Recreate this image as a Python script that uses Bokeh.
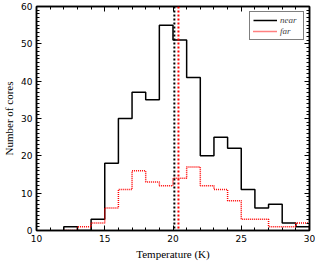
import numpy as np
from bokeh.plotting import figure
from bokeh.models import (Range1d, LinearAxis, Span, Legend, LegendItem, FixedTicker,
                          CustomJSTickFormatter)
from bokeh.embed import file_html
from bokeh.resources import INLINE

# ---- data ----
bin_edges = [12, 13, 14, 15, 16, 17, 18, 19, 20, 21, 22, 23, 24, 25, 26, 27, 28, 29, 30]
near_counts = [1, 0, 3, 18, 30, 37, 35, 55, 51, 41, 20, 25, 22, 11, 6, 7, 2, 1]
far_counts = [0, 1, 2, 6, 11, 16, 13, 12, 14, 17, 12, 11, 8, 3, 3, 1, 1, 2]
near_median = 20.1
far_median = 20.4
x_ticks = [10, 15, 20, 25, 30]
y_ticks = [0, 10, 20, 30, 40, 50, 60]
series_names = ["near", "far"]


def outline(edges, counts):
    xs = [edges[0]]
    ys = [0]
    for i, c in enumerate(counts):
        xs += [edges[i], edges[i + 1]]
        ys += [c, c]
    xs.append(edges[-1])
    ys.append(0)
    return xs, ys


SERIF = "Liberation Serif"
TICKF = "DejaVu Sans"

p = figure(width=315, height=262, output_backend="svg", toolbar_location=None,
           x_range=Range1d(10, 30), y_range=Range1d(0, 60),
           min_border_left=0, min_border_right=6, min_border_top=6, min_border_bottom=0,
           x_axis_label="Temperature (K)", y_axis_label="Number of cores")
p.grid.visible = False
p.outline_line_color = "black"
p.outline_line_width = 1.5
p.background_fill_color = "white"
p.border_fill_color = "white"

p.xaxis.ticker = FixedTicker(ticks=x_ticks, minor_ticks=list(range(10, 31)))
p.yaxis.ticker = FixedTicker(ticks=y_ticks, minor_ticks=list(range(0, 61)))

for ax in [p.xaxis[0], p.yaxis[0]]:
    ax.axis_line_color = "black"
    ax.axis_line_width = 1.5
    ax.major_tick_in = 5
    ax.major_tick_out = 0
    ax.minor_tick_in = 3
    ax.minor_tick_out = 0
    ax.major_tick_line_color = "black"
    ax.minor_tick_line_color = "black"
    ax.major_label_text_font = TICKF
    ax.major_label_text_font_size = "9px"
    ax.major_label_text_color = "black"
    ax.axis_label_text_font = SERIF
    ax.axis_label_text_font_size = "11px"
    ax.axis_label_text_font_style = "normal"
    ax.axis_label_text_color = "black"
    ax.axis_label_standoff = 3
    ax.major_label_standoff = 4

# mirrored axes on top and right (ticks only)
top = LinearAxis(ticker=FixedTicker(ticks=x_ticks, minor_ticks=list(range(10, 31))),
                 formatter=CustomJSTickFormatter(code="return ''"))
right = LinearAxis(ticker=FixedTicker(ticks=y_ticks, minor_ticks=list(range(0, 61))),
                   formatter=CustomJSTickFormatter(code="return ''"))
for ax in [top, right]:
    ax.axis_line_color = "black"
    ax.axis_line_width = 1.5
    ax.major_tick_in = 5
    ax.major_tick_out = 0
    ax.minor_tick_in = 3
    ax.minor_tick_out = 0
    ax.major_label_standoff = 0
p.add_layout(top, "above")
p.add_layout(right, "right")

nx, ny = outline(bin_edges, near_counts)
fx, fy = outline(bin_edges, far_counts)
r_near = p.line(nx, ny, line_color="black", line_width=1.5)
r_far = p.line(fx, fy, line_color="#ff0000", line_width=1.5, line_dash="1 1")

p.add_layout(Span(location=near_median, dimension="height", line_color="black",
                  line_width=2, line_dash="2 2"))
p.add_layout(Span(location=far_median, dimension="height", line_color="#ff0000",
                  line_width=2, line_dash="2 2"))

legend = Legend(items=[LegendItem(label=series_names[0], renderers=[r_near]),
                       LegendItem(label=series_names[1], renderers=[r_far])],
                location="top_right")
legend.label_text_font = SERIF
legend.label_text_font_style = "italic"
legend.label_text_font_size = "9px"
legend.label_height = 8
legend.glyph_height = 8
legend.glyph_width = 24
legend.label_standoff = 3
legend.spacing = 1
legend.padding = 3
legend.margin = 5
legend.border_line_color = "black"
legend.border_line_width = 1.5
legend.background_fill_alpha = 1
p.add_layout(legend)

open("out.html", "w").write(file_html(p, INLINE))
